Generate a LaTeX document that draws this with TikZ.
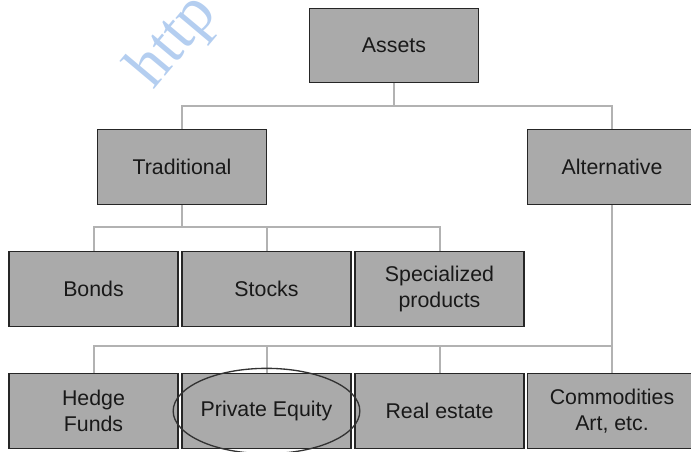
\documentclass[tikz,border=0pt]{standalone}
\usepackage{fontspec}
\setmainfont{Liberation Sans}
\newfontfamily\markfont{Liberation Serif}
\usepackage{tikz}

\definecolor{boxgray}{RGB}{170,170,170}
\definecolor{linegray}{RGB}{178,178,178}
\definecolor{markblue}{RGB}{180,206,240}

\begin{document}
\begin{tikzpicture}[x=0.75pt,y=-0.75pt,
    asset/.style={draw=black!85,line width=0.9pt,fill=boxgray,inner sep=0pt,
        minimum width=126.75pt,minimum height=56pt,align=center,
        font=\fontsize{16}{19}\selectfont,text=black!90},
    link/.style={draw=linegray,line width=1.5pt}]
        \useasboundingbox (0,0) rectangle (691,451);
        % watermark
        \node[markblue,rotate=50,inner sep=0pt,font=\markfont\fontsize{48}{48}\selectfont] (mark) at (174,42) {http};
        
        % boxes
        \node[asset] (assets) at (394,45.5) {Assets};
        \node[asset] (trad) at (182,167) {Traditional};
        \node[asset] (alt) at (612,167) {Alternative};
        \node[asset] (bonds) at (93.5,289) {Bonds};
        \node[asset] (stocks) at (266.5,289) {Stocks};
        \node[asset] (spec) at (439.5,289) {Specialized\\products};
        \node[asset] (hedge) at (93.5,411) {Hedge\\Funds};
        \node[asset] (pe) at (266.5,411) {Private Equity};
        \node[asset] (real) at (439.5,411) {Real estate};
        \node[asset] (comm) at (612,411) {Commodities\\Art, etc.};
        
        % connectors
        \coordinate (top) at (394,106);
        \coordinate (tradj) at (182,227);
        \coordinate (altj) at (612,346);
        \draw[link] (assets.south)--(top);
        \draw[link] (trad.north) |- (top) -| (alt.north);
        \draw[link] (trad.south)--(tradj);
        \draw[link] (bonds.north) |- (tradj) -| (spec.north);
        \draw[link] (stocks.north)--(stocks.north |- tradj);
        \draw[link] (alt.south)--(comm.north);
        \draw[link] (hedge.north) |- (altj);
        \draw[link] (pe.north)--(pe.north |- altj);
        \draw[link] (real.north)--(real.north |- altj);
        
        % circled box
        \draw[black!80,line width=1pt] (pe.center) ellipse (70pt and 32pt);
    \end{tikzpicture}
\end{document}
